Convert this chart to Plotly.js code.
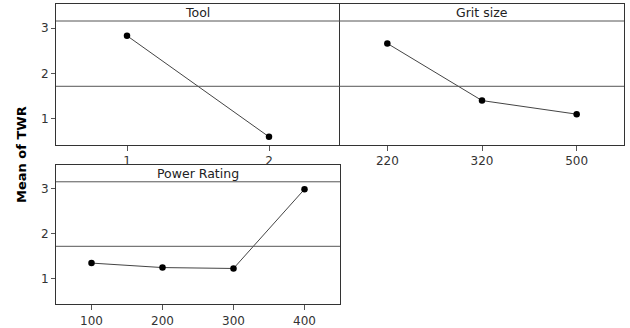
<!DOCTYPE html>
<html><head><meta charset="utf-8">
<script src="https://cdn.plot.ly/plotly-3.0.1.min.js"></script>
<style>html,body{margin:0;padding:0;background:#fff}#chart{width:630px;height:328px}</style>
</head><body><div id="chart"></div>
<script>
const toolLevels = ['1', '2'];
const toolMeans = [2.83, 0.60];
const gritLevels = ['220', '320', '500'];
const gritMeans = [2.66, 1.40, 1.10];
const powerLevels = ['100', '200', '300', '400'];
const powerMeans = [1.34, 1.24, 1.22, 2.99];
const panelTitles = ['Tool', 'Grit size', 'Power Rating'];
const yTitle = 'Mean of TWR';
const yTicks = [1, 2, 3];

const grandMean = toolMeans.reduce((a, b) => a + b, 0) / toolMeans.length;

const W = 630, H = 328;
const px = v => v / W, py = v => 1 - v / H;
const font = 'DejaVu Sans, Verdana, sans-serif';
const lineCol = '#333';
const yRange = [0.42, 3.53];

function trace(x, y, xa, ya) {
  return {x, y, xaxis: xa, yaxis: ya, type: 'scatter', mode: 'lines+markers',
    line: {color: '#444', width: 1}, marker: {color: '#000', size: 6.5},
    hoverinfo: 'none', showlegend: false};
}

const data = [
  trace(toolLevels, toolMeans, 'x', 'y'),
  trace(gritLevels, gritMeans, 'x2', 'y2'),
  trace(powerLevels, powerMeans, 'x3', 'y3')
];

function xax(domain, n, anchor) {
  return {domain, anchor, type: 'category', range: [-0.5, n - 0.5],
    showgrid: false, zeroline: false, showline: true, mirror: true,
    linecolor: lineCol, linewidth: 1, ticks: 'outside', ticklen: 5,
    tickcolor: '#555', tickwidth: 1,
    tickfont: {family: font, size: 12, color: '#333'}, fixedrange: true};
}
function yax(domain, anchor, showLabels, mirror) {
  return {domain, anchor, range: yRange, tickvals: yTicks,
    showgrid: false, zeroline: false, showline: true, mirror: mirror,
    linecolor: lineCol, linewidth: 1,
    ticks: showLabels ? 'outside' : '', ticklen: 4, tickcolor: '#555',
    showticklabels: showLabels,
    tickfont: {family: font, size: 12, color: '#333'}, fixedrange: true};
}

const d1x = [px(56), px(340)], d2x = [px(340), px(624)];
const topY = [py(145), py(4)], botY = [py(304.3), py(165)];

const headerFrac = 1 - 17 / 141;
const shapes = [];
const annotations = [];
[['x', 'y', panelTitles[0]], ['x2', 'y2', panelTitles[1]], ['x3', 'y3', panelTitles[2]]].forEach(([xa, ya, t]) => {
  shapes.push({type: 'line', xref: xa + ' domain', yref: ya + ' domain',
    x0: 0, x1: 1, y0: headerFrac, y1: headerFrac, line: {color: '#555', width: 1}});
  shapes.push({type: 'line', xref: xa + ' domain', yref: ya,
    x0: 0, x1: 1, y0: grandMean, y1: grandMean, line: {color: '#555', width: 1}});
  annotations.push({xref: xa + ' domain', yref: ya + ' domain', x: 0.5,
    y: (1 + headerFrac) / 2, text: t, showarrow: false,
    xanchor: 'center', yanchor: 'middle',
    font: {family: font, size: 12.5, color: '#222'}});
});
annotations.push({xref: 'paper', yref: 'paper', x: px(21), y: py(155),
  text: '<b>' + yTitle + '</b>', textangle: -90, showarrow: false,
  xanchor: 'center', yanchor: 'middle',
  font: {family: font, size: 13, color: '#000'}});

const layout = {
  width: W, height: H, margin: {l: 0, r: 0, t: 0, b: 0},
  paper_bgcolor: '#fff', plot_bgcolor: '#fff',
  xaxis: xax(d1x, toolLevels.length, 'y'),
  yaxis: yax(topY, 'x', true, false),
  xaxis2: xax(d2x, gritLevels.length, 'y2'),
  yaxis2: yax(topY, 'x2', false, true),
  xaxis3: xax(d1x, powerLevels.length, 'y3'),
  yaxis3: yax(botY, 'x3', true, true),
  shapes, annotations
};

Plotly.newPlot('chart', data, layout, {displayModeBar: false, staticPlot: true});
</script>
</body></html>
